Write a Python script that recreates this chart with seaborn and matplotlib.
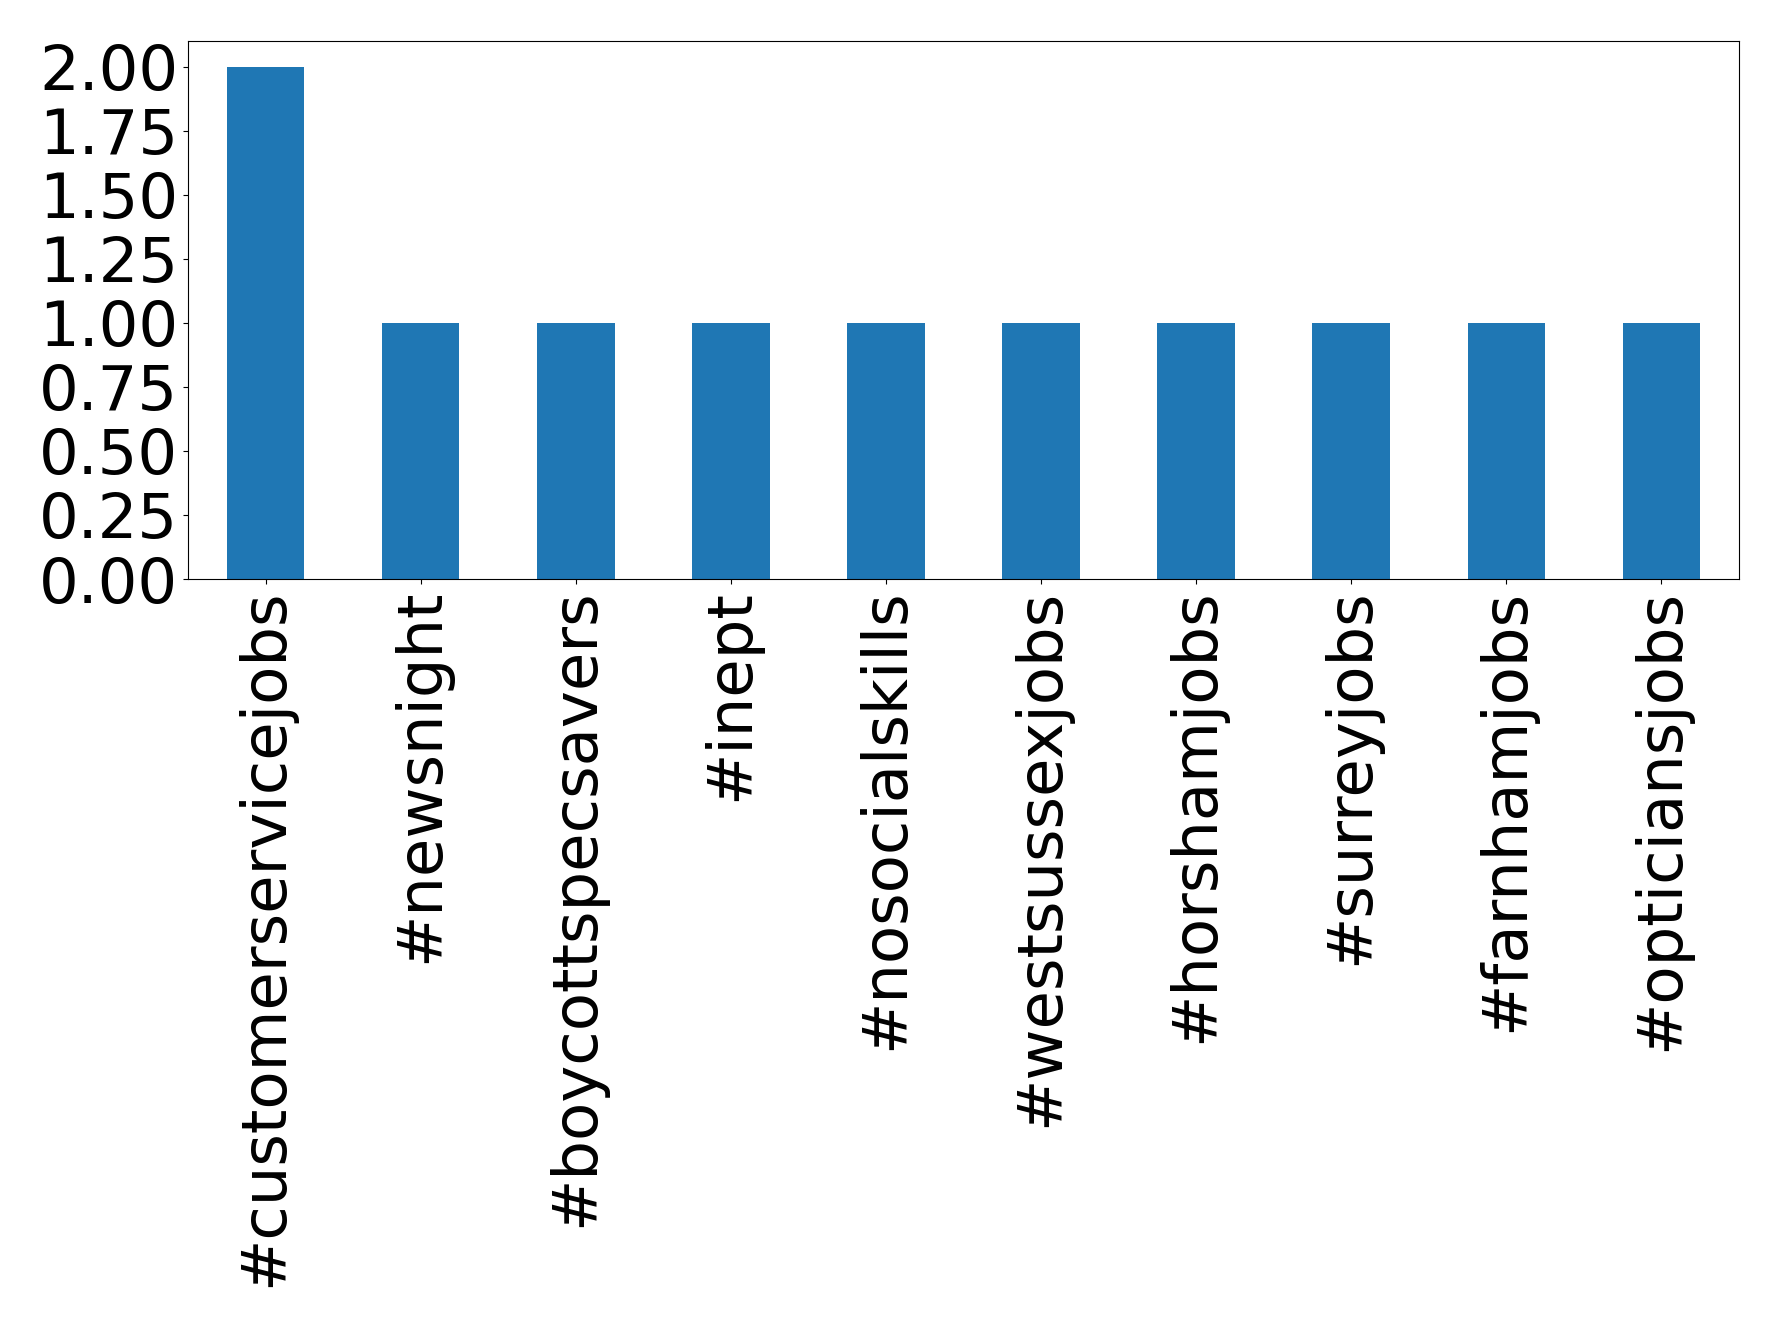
import matplotlib
matplotlib.use("Agg")
import matplotlib.pyplot as plt
import seaborn as sns

# hashtag counts
hashtags = ["#customerservicejobs", "#newsnight", "#boycottspecsavers", "#inept",
            "#nosocialskills", "#westsussexjobs", "#horshamjobs", "#surreyjobs",
            "#farnhamjobs", "#opticiansjobs"]
counts = [2, 1, 1, 1, 1, 1, 1, 1, 1, 1]
yticks = [0.0, 0.25, 0.5, 0.75, 1.0, 1.25, 1.5, 1.75, 2.0]

fig, ax = plt.subplots(figsize=(17.78, 13.27), dpi=100)
sns.barplot(x=hashtags, y=counts, color="#1f77b4", saturation=1, width=0.5, ax=ax)

ax.set_xlim(-0.5, len(hashtags) - 0.5)
ax.set_ylim(0, 2.1)
ax.set_yticks(yticks)
ax.set_yticklabels([f"{v:.2f}" for v in yticks])
ax.tick_params(axis="both", labelsize=45)
ax.tick_params(axis="x", labelrotation=90)

fig.subplots_adjust(left=188 / 1778, right=1739 / 1778, top=1 - 41 / 1327, bottom=1 - 579 / 1327)
fig.savefig("out.png", dpi=100)
